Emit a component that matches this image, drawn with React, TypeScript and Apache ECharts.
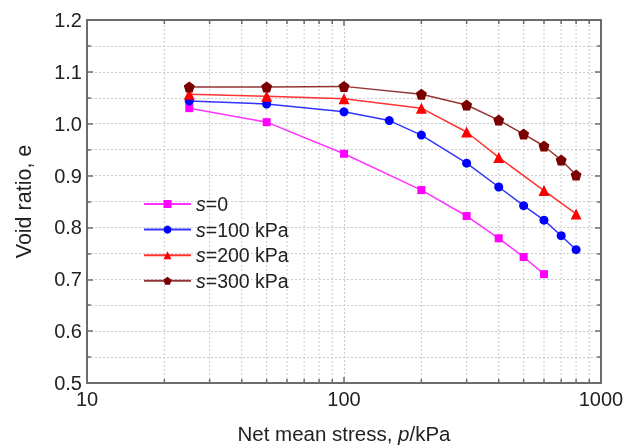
import React, { useEffect, useRef } from "react";
import * as echarts from "echarts";

const pS0 = [25, 50, 100, 200, 300, 400, 500, 600];
const eS0 = [1.03, 1.003, 0.942, 0.872, 0.822, 0.779, 0.743, 0.71];
const pS100 = [25, 50, 100, 150, 200, 300, 400, 500, 600, 700, 800];
const eS100 = [1.044, 1.038, 1.023, 1.006, 0.978, 0.924, 0.878, 0.842, 0.814, 0.784, 0.757];
const pS200 = [25, 50, 100, 200, 300, 400, 600, 800];
const eS200 = [1.057, 1.053, 1.048, 1.03, 0.984, 0.935, 0.871, 0.826];
const pS300 = [25, 50, 100, 200, 300, 400, 500, 600, 700, 800];
const eS300 = [1.071, 1.071, 1.072, 1.057, 1.036, 1.007, 0.98, 0.957, 0.93, 0.901];

const seriesNames = ["s=0", "s=100 kPa", "s=200 kPa", "s=300 kPa"];
const xMinorTicks = [20, 30, 40, 50, 60, 70, 80, 90, 200, 300, 400, 500, 600, 700, 800, 900];

const X_MIN = 10;
const X_MAX = 1000;
const Y_MIN = 0.5;
const Y_MAX = 1.2;

const FONT = "'Liberation Sans', Arial, Helvetica, sans-serif";
const AXIS_COLOR = "#6b6b6b";
const GRID_COLOR = "#cccccc";
const TEXT_COLOR = "#222";

const PENTAGON = "path://M0,-1L0.951,-0.309L0.588,0.809L-0.588,0.809L-0.951,-0.309Z";

function pairs(xs: number[], ys: number[]) {
  return xs.map((x, i) => [x, ys[i]]);
}

export default function App() {
  const ref = useRef<HTMLDivElement>(null);
  useEffect(() => {
    if (!ref.current) return;
    const chart = echarts.init(ref.current, undefined, { renderer: "svg" });
    const mk = (name: string, xs: number[], ys: number[], color: string, symbol: string, size: number) => ({
      name,
      type: "line",
      data: pairs(xs, ys),
      symbol,
      symbolSize: size,
      z: 3,
      itemStyle: { color },
      lineStyle: { color, width: 1.5, opacity: 0.8 },
    });
    chart.setOption({
      animation: false,
      grid: { left: 87, right: 33, top: 20, bottom: 64, containLabel: false, outerBoundsMode: "none" },
      legend: {
        left: 143,
        top: 194,
        padding: 0,
        orient: "vertical",
        itemWidth: 47,
        itemHeight: 10,
        itemGap: 5.6,
        data: seriesNames,
        formatter: (n: string) => "{i|s}" + n.slice(1),
        textStyle: {
          fontSize: 19.5,
          fontFamily: FONT,
          color: TEXT_COLOR,
          rich: { i: { fontStyle: "italic", fontSize: 19.5, fontFamily: FONT, color: TEXT_COLOR } },
        },
      },
      xAxis: [
        {
          type: "log",
          logBase: 10,
          min: X_MIN,
          max: X_MAX,
          position: "bottom",
          name: "Net mean stress, {i|p}/kPa",
          nameLocation: "middle",
          nameGap: 40,
          nameTextStyle: {
            fontSize: 20.5,
            fontFamily: FONT,
            color: TEXT_COLOR,
            rich: { i: { fontStyle: "italic", fontSize: 20.5, fontFamily: FONT, color: TEXT_COLOR } },
          },
          axisLine: { show: true, lineStyle: { color: AXIS_COLOR, width: 2 } },
          axisTick: { show: true, inside: true, length: 6, lineStyle: { color: AXIS_COLOR, width: 1.5 } },
          axisLabel: {
            fontSize: 20,
            fontFamily: FONT,
            color: TEXT_COLOR,
            margin: 6,
            formatter: (v: number) => String(Math.round(v)),
          },
          splitLine: { show: true, lineStyle: { color: GRID_COLOR, type: [2, 2], width: 1 } },
        },
        {
          type: "log",
          logBase: 10,
          min: X_MIN,
          max: X_MAX,
          position: "top",
          axisLine: { show: true, lineStyle: { color: AXIS_COLOR, width: 2 } },
          axisTick: { show: true, inside: true, length: 6, lineStyle: { color: AXIS_COLOR, width: 1.5 } },
          axisLabel: { show: false },
          splitLine: { show: false },
        },
      ],
      yAxis: [
        {
          type: "value",
          min: Y_MIN,
          max: Y_MAX,
          interval: 0.1,
          position: "left",
          name: "Void ratio, e",
          nameLocation: "middle",
          nameGap: 52,
          nameTextStyle: { fontSize: 21.5, fontFamily: FONT, color: TEXT_COLOR },
          axisLine: { show: true, lineStyle: { color: AXIS_COLOR, width: 2 } },
          axisTick: { show: true, inside: true, length: 6, lineStyle: { color: AXIS_COLOR, width: 1.5 } },
          minorTick: { show: true, splitNumber: 2, length: 4, lineStyle: { color: AXIS_COLOR, width: 1.5 } },
          axisLabel: {
            fontSize: 20,
            fontFamily: FONT,
            color: TEXT_COLOR,
            margin: 5,
            formatter: (v: number) => v.toFixed(1),
          },
          splitLine: { show: true, lineStyle: { color: GRID_COLOR, type: [2, 2], width: 1 } },
          minorSplitLine: { show: true, lineStyle: { color: GRID_COLOR, type: [2, 2], width: 1 } },
        },
        {
          type: "value",
          min: Y_MIN,
          max: Y_MAX,
          interval: 0.1,
          position: "right",
          axisLine: { show: true, lineStyle: { color: AXIS_COLOR, width: 2 } },
          axisTick: { show: true, inside: true, length: 6, lineStyle: { color: AXIS_COLOR, width: 1.5 } },
          minorTick: { show: true, splitNumber: 2, length: 4, lineStyle: { color: AXIS_COLOR, width: 1.5 } },
          axisLabel: { show: false },
          splitLine: { show: false },
        },
      ],
      series: [
        {
          type: "custom",
          silent: true,
          z: 1,
          xAxisIndex: 0,
          yAxisIndex: 0,
          data: xMinorTicks.map((v) => [v, Y_MIN]),
          renderItem: (_params: any, api: any) => {
            const v = api.value(0);
            const b = api.coord([v, Y_MIN]);
            const t = api.coord([v, Y_MAX]);
            return {
              type: "group",
              children: [
                {
                  type: "line",
                  shape: { x1: b[0], y1: b[1], x2: t[0], y2: t[1] },
                  style: { stroke: GRID_COLOR, lineWidth: 1, lineDash: [2, 2] },
                },
                {
                  type: "line",
                  shape: { x1: b[0], y1: b[1], x2: b[0], y2: b[1] - 4 },
                  style: { stroke: AXIS_COLOR, lineWidth: 1.5 },
                },
                {
                  type: "line",
                  shape: { x1: t[0], y1: t[1], x2: t[0], y2: t[1] + 4 },
                  style: { stroke: AXIS_COLOR, lineWidth: 1.5 },
                },
              ],
            };
          },
        },
        mk(seriesNames[0], pS0, eS0, "#ff00ff", "rect", 8),
        mk(seriesNames[1], pS100, eS100, "#0000ff", "circle", 9),
        mk(seriesNames[2], pS200, eS200, "#ff0000", "triangle", 11),
        mk(seriesNames[3], pS300, eS300, "#7a0000", PENTAGON, 11),
      ],
    });
    return () => chart.dispose();
  }, []);
  return <div ref={ref} style={{ position: "fixed", left: 0, top: 0, width: 634, height: 447 }} />;
}
